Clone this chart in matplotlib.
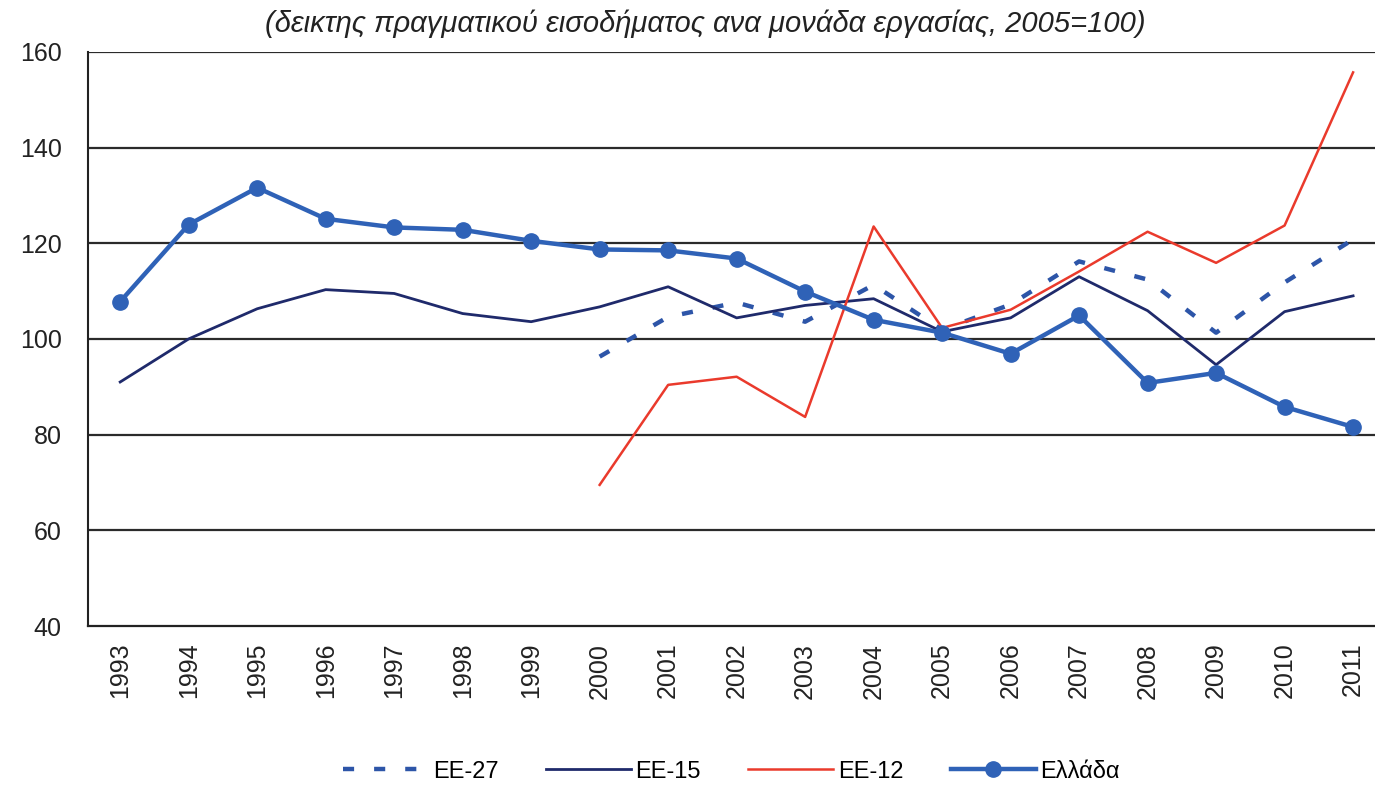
import matplotlib.pyplot as plt

plt.rcParams['font.family'] = ['Liberation Sans', 'DejaVu Sans']

years = list(range(1993, 2012))
years_new = list(range(2000, 2012))

ellada = [107.8, 123.9, 131.6, 125.1, 123.3, 122.8, 120.5, 118.7, 118.5, 116.8,
          109.9, 104.0, 101.3, 96.9, 104.9, 90.8, 92.9, 85.8, 81.6]
ee15 = [91.0, 100.0, 106.3, 110.3, 109.5, 105.3, 103.6, 106.7, 110.9, 104.4,
        107.0, 108.4, 101.5, 104.4, 113.0, 105.9, 94.6, 105.7, 109.0]
ee12 = [69.5, 90.4, 92.1, 83.7, 123.5, 102.3, 106.1, 114.1, 122.4, 115.9, 123.7, 155.7]
ee27 = [96.3, 104.6, 107.6, 103.6, 111.3, 101.9, 107.2, 116.2, 112.4, 101.3, 111.8, 120.8]

title = '(δεικτης πραγματικού εισοδήματος ανα μονάδα εργασίας, 2005=100)'

fig = plt.figure(figsize=(13.75, 7.85), dpi=100)
ax = fig.add_axes([0.064, 0.2025, 0.936, 0.7315])

for y in [60, 80, 100, 120, 140, 160]:
    ax.axhline(y, color='#2b2b2b', lw=1.6, zorder=1)

l27, = ax.plot(years_new, ee27, color='#2d55a8', lw=3.2, linestyle=(0, (2.5, 4.5)), zorder=3, label='EE-27')
l15, = ax.plot(years, ee15, color='#1f2a6b', lw=2.0, zorder=3, label='EE-15')
l12, = ax.plot(years_new, ee12, color='#ea3a2c', lw=1.8, zorder=4, label='EE-12')
lgr, = ax.plot(years, ellada, color='#2f62b7', lw=3.2, marker='o', markersize=11,
               zorder=5, label='Ελλάδα')

ax.set_xlim(1992.53, 2011.32)
ax.set_ylim(40, 160)
ax.set_yticks([40, 60, 80, 100, 120, 140, 160])
ax.set_xticks(years)
ax.set_xticklabels([str(y) for y in years], rotation=90, fontsize=18, color='#222222')
ax.tick_params(axis='y', labelsize=18, length=0, pad=19, labelcolor='#222222')
ax.tick_params(axis='x', length=0, pad=12)

for s in ['top', 'right']:
    ax.spines[s].set_visible(False)
ax.spines['left'].set_color('#222222')
ax.spines['bottom'].set_color('#222222')
ax.spines['left'].set_linewidth(1.5)
ax.spines['bottom'].set_linewidth(1.6)

fig.text(0.513, 0.970, title, ha='center', va='center', fontsize=21, style='italic', color='#222222')

fig.legend(handles=[l27, l15, l12, lgr], loc='center', bbox_to_anchor=(0.532, 0.017),
           ncol=4, frameon=False, fontsize=17, handlelength=3.6, columnspacing=2.0,
           handletextpad=0.2)

fig.savefig('out.png', dpi=100)
